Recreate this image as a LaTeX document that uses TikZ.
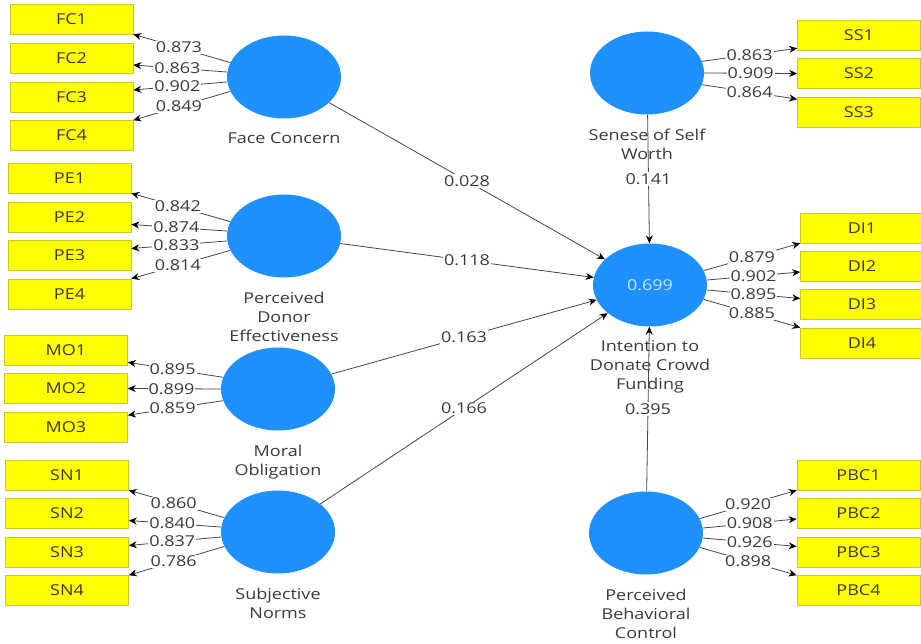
\documentclass[tikz,border=0pt]{standalone}
\usepackage{fontspec}
\setmainfont{Open Sans}[FakeStretch=1.2]
\usetikzlibrary{shapes.geometric,arrows.meta,calc}
\definecolor{lvblue}{RGB}{30,144,255}
\definecolor{indyellow}{RGB}{255,255,0}
\definecolor{indborder}{RGB}{200,200,40}
\definecolor{txtgray}{RGB}{58,58,58}
\definecolor{linegray}{RGB}{70,70,70}
\definecolor{rsqcol}{RGB}{200,228,255}
\begin{document}
\begin{tikzpicture}[x=1pt,y=-1pt,
  font=\fontsize{15}{19}\selectfont,
  latent/.style={ellipse, fill=lvblue, draw=none, minimum width=114pt, minimum height=83pt, inner sep=0pt},
  indicator/.style={rectangle, fill=indyellow, draw=indborder, line width=0.6pt, minimum width=123pt, minimum height=30pt, inner sep=0pt, text=txtgray},
  lvname/.style={align=center, text=txtgray, inner sep=0pt, anchor=north},
  load/.style={draw=linegray, line width=0.8pt, -{Stealth[length=8pt,width=7pt,black]}},
  struct/.style={draw=linegray, line width=0.8pt, -{Stealth[length=8pt,width=7pt,black]}},
  coef/.style={fill=white, inner sep=1pt, text=txtgray},
  ]
\useasboundingbox (0,0) rectangle (921,644);

% latent variables
\node[latent] (FC) at (284,77) {};
\node[latent] (PE) at (284,236) {};
\node[latent] (MO) at (278,389) {};
\node[latent] (SN) at (278,532) {};
\node[latent] (SS) at (647,73) {};
\node[latent, text=rsqcol] (DI) at (650,285) {0.699};
\node[latent] (PBC) at (646,533) {};

% latent labels
\node[lvname] (FCl) at ([yshift=-14pt]FC.south) {Face Concern};
\node[lvname] (PEl) at ([yshift=-14pt]PE.south) {Perceived\\Donor\\Effectiveness};
\node[lvname] (MOl) at ([yshift=-14pt]MO.south) {Moral\\Obligation};
\node[lvname] (SNl) at ([yshift=-14pt]SN.south) {Subjective\\Norms};
\node[lvname] (SSl) at ([yshift=-14pt]SS.south) {Senese of Self\\Worth};
\node[lvname] (DIl) at ([yshift=-14pt]DI.south) {Intention to\\Donate Crowd\\Funding};
\node[lvname] (PBCl) at ([yshift=-14pt]PBC.south) {Perceived\\Behavioral\\Control};

% indicators
\node[indicator] (FC1) at (71.5,19) {FC1};
\node[indicator] (FC2) at (71.5,58) {FC2};
\node[indicator] (FC3) at (71.5,97) {FC3};
\node[indicator] (FC4) at (71.5,135.5) {FC4};
\node[indicator] (PE1) at (69.5,178) {PE1};
\node[indicator] (PE2) at (69.5,217.5) {PE2};
\node[indicator] (PE3) at (69.5,255.5) {PE3};
\node[indicator] (PE4) at (69.5,294) {PE4};
\node[indicator] (MO1) at (66,350) {MO1};
\node[indicator] (MO2) at (66,388.5) {MO2};
\node[indicator] (MO3) at (66,427.5) {MO3};
\node[indicator] (SN1) at (67,475) {SN1};
\node[indicator] (SN2) at (67,513.5) {SN2};
\node[indicator] (SN3) at (67,552.5) {SN3};
\node[indicator] (SN4) at (67,590.5) {SN4};
\node[indicator] (SS1) at (859,35) {SS1};
\node[indicator] (SS2) at (859,73.5) {SS2};
\node[indicator] (SS3) at (859,112.5) {SS3};
\node[indicator] (DI1) at (862,228) {DI1};
\node[indicator] (DI2) at (862,266) {DI2};
\node[indicator] (DI3) at (862,304.5) {DI3};
\node[indicator] (DI4) at (862,343) {DI4};
\node[indicator] (PBC1) at (858.5,475) {PBC1};
\node[indicator] (PBC2) at (858.5,513) {PBC2};
\node[indicator] (PBC3) at (858.5,552.5) {PBC3};
\node[indicator] (PBC4) at (858.5,590.5) {PBC4};

% outer loadings (left)
\draw[load] (FC.165) -- (FC1.south east) node[coef,pos=.53]{0.873};
\draw[load] (FC.175) -- ([yshift=-7pt]FC2.east) node[coef,pos=.53]{0.863};
\draw[load] (FC.185) -- ([yshift=7pt]FC3.east) node[coef,pos=.53]{0.902};
\draw[load] (FC.195) -- (FC4.north east) node[coef,pos=.53]{0.849};

\draw[load] (PE.165) -- (PE1.south east) node[coef,pos=.53]{0.842};
\draw[load] (PE.175) -- ([yshift=-7pt]PE2.east) node[coef,pos=.53]{0.874};
\draw[load] (PE.185) -- ([yshift=7pt]PE3.east) node[coef,pos=.53]{0.833};
\draw[load] (PE.195) -- (PE4.north east) node[coef,pos=.53]{0.814};

\draw[load] (MO.168) -- ([yshift=3pt]MO1.south east) node[coef,pos=.53]{0.895};
\draw[load] (MO.180) -- (MO2.east) node[coef,pos=.53]{0.899};
\draw[load] (MO.192) -- ([yshift=-3pt]MO3.north east) node[coef,pos=.53]{0.859};

\draw[load] (SN.165) -- (SN1.south east) node[coef,pos=.53]{0.860};
\draw[load] (SN.175) -- ([yshift=-7pt]SN2.east) node[coef,pos=.53]{0.840};
\draw[load] (SN.185) -- ([yshift=7pt]SN3.east) node[coef,pos=.53]{0.837};
\draw[load] (SN.195) -- (SN4.north east) node[coef,pos=.53]{0.786};

% outer loadings (right)
\draw[load] (SS.12) -- ([yshift=2pt]SS1.south west) node[coef,pos=.5]{0.863};
\draw[load] (SS.0) -- (SS2.west) node[coef,pos=.5]{0.909};
\draw[load] (SS.-12) -- ([yshift=-2pt]SS3.north west) node[coef,pos=.5]{0.864};

\draw[load] (DI.15) -- (DI1.south west) node[coef,pos=.5]{0.879};
\draw[load] (DI.5) -- ([yshift=-6pt]DI2.west) node[coef,pos=.5]{0.902};
\draw[load] (DI.-5) -- ([yshift=6pt]DI3.west) node[coef,pos=.5]{0.895};
\draw[load] (DI.-15) -- (DI4.north west) node[coef,pos=.5]{0.885};

\draw[load] (PBC.15) -- (PBC1.south west) node[coef,pos=.5]{0.920};
\draw[load] (PBC.5) -- ([yshift=-6pt]PBC2.west) node[coef,pos=.5]{0.908};
\draw[load] (PBC.-5) -- ([yshift=6pt]PBC3.west) node[coef,pos=.5]{0.926};
\draw[load] (PBC.-15) -- (PBC4.north west) node[coef,pos=.5]{0.898};

% structural paths
\draw[struct] (FC) -- (DI);
\draw[struct] (PE) -- (DI);
\draw[struct] (MO) -- (DI);
\draw[struct] (SN) -- (DI);
\draw[struct] (SS) -- (DI);
\draw[struct] (PBC) -- (DI);
\node[coef] (cFC) at ($(FC.center)!0.5!(DI.center)$) {0.028};
\node[coef] (cPE) at ($(PE.center)!0.5!(DI.center)$) {0.118};
\node[coef] (cMO) at ($(MO.center)!0.5!(DI.center)$) {0.163};
\node[coef] (cSN) at ($(SN.center)!0.5!(DI.center)$) {0.166};
\node[coef] (cSS) at ($(SS.center)!0.5!(DI.center)$) {0.141};
\node[coef] (cPBC) at ($(PBC.center)!0.5!(DI.center)$) {0.395};
\end{tikzpicture}
\end{document}
